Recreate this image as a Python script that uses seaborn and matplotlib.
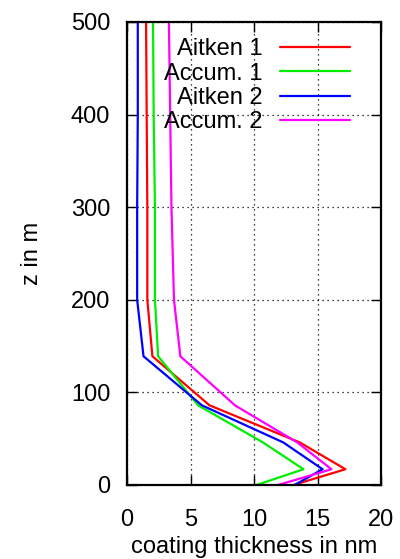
import pandas as pd
import matplotlib.pyplot as plt
import seaborn as sns

# model levels (m)
z = [0, 17, 46, 86, 139, 200, 300, 400, 500]

# coating thickness (nm) per mode
aitken1 = [13.1, 17.2, 13.6, 6.5, 2.0, 1.6, 1.6, 1.55, 1.5]
accum1 = [10.2, 13.9, 10.7, 5.6, 2.45, 2.2, 2.2, 2.1, 2.05]
aitken2 = [13.2, 15.4, 12.3, 5.9, 1.3, 0.8, 0.8, 0.85, 0.85]
accum2 = [11.9, 16.1, 13.4, 8.5, 4.2, 3.7, 3.5, 3.4, 3.3]

labels = ['Aitken 1', 'Accum. 1', 'Aitken 2', 'Accum. 2']
colors = ['#ff0000', '#00ee00', '#0000ff', '#ff00ff']

rows = []
for lab, vals in zip(labels, [aitken1, accum1, aitken2, accum2]):
    for zz, v in zip(z, vals):
        rows.append({'mode': lab, 'z': zz, 'thickness': v})
df = pd.DataFrame(rows)

sns.set_style('ticks')
plt.rcParams['font.family'] = ['Liberation Sans', 'DejaVu Sans']
plt.rcParams['text.color'] = 'black'
plt.rcParams['axes.labelcolor'] = 'black'
plt.rcParams['xtick.color'] = 'black'
plt.rcParams['ytick.color'] = 'black'

fig = plt.figure(figsize=(4, 5.59), dpi=100)
ax = fig.add_axes([0.3175, 0.1324, 0.635, 0.8283])

for lab, col in zip(labels, colors):
    sns.lineplot(data=df[df['mode'] == lab], x='thickness', y='z', sort=False,
                 estimator=None, color=col, lw=1.6, label=lab, ax=ax)

ax.set_xlim(0, 20)
ax.set_ylim(0, 500)
ax.set_xticks([0, 5, 10, 15, 20])
ax.set_yticks([0, 100, 200, 300, 400, 500])
ax.grid(True, color='black', linestyle=(0, (1, 3)), linewidth=0.9)
ax.tick_params(direction='in', length=7, width=1, top=True, right=True,
               labelsize=17, pad=12)
ax.tick_params(axis='x', pad=17)
for s in ax.spines.values():
    s.set_linewidth(1.6)
    s.set_color('black')
ax.set_xlabel('coating thickness in nm', fontsize=17, labelpad=4)
ax.set_ylabel('z in m', fontsize=17, labelpad=20)

ax.legend(loc='upper right', bbox_to_anchor=(0.878, 0.965), frameon=False,
          markerfirst=False, fontsize=17, handlelength=2.97, handletextpad=0.72,
          labelspacing=0.1, borderpad=0, borderaxespad=0)

plt.savefig('out.png', dpi=100)
